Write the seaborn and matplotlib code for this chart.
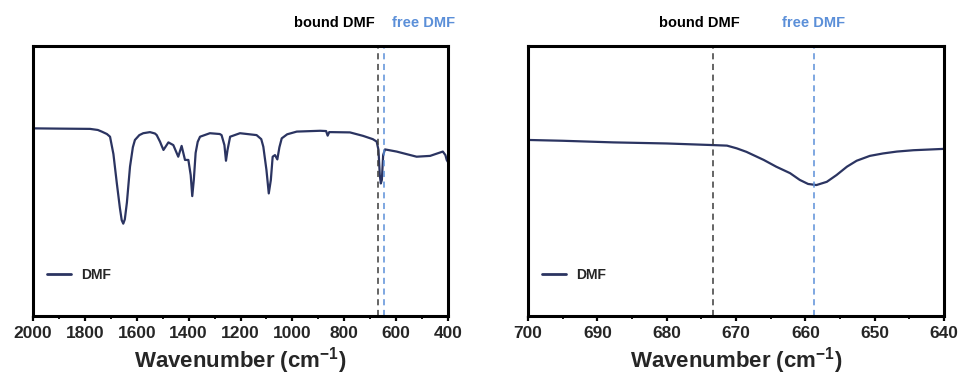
import numpy as np
import pandas as pd
import matplotlib
matplotlib.use("Agg")
import matplotlib.pyplot as plt
import seaborn as sns

# ---- data ----
wn_full = [2000, 1900, 1780, 1750, 1735, 1715, 1703, 1690, 1677, 1665, 1658, 1652,
           1646, 1638, 1626, 1615, 1607, 1590, 1575,
           1549, 1530, 1523, 1510, 1505, 1497, 1478, 1459, 1440, 1427, 1414, 1401,
           1392, 1386, 1380, 1373, 1365, 1356, 1318, 1280, 1273, 1262, 1256, 1250,
           1240, 1202, 1138, 1120, 1112, 1100, 1091, 1083, 1076, 1067, 1058, 1050,
           1041, 1020, 983, 893, 870, 864, 858, 848, 778, 727, 690, 675, 668, 663,
           659, 655, 650, 643, 598, 521, 469, 420, 410, 405, 400]
tr_full = [69.5, 69.4, 69.3, 68.9, 68.3, 67.4, 66.4, 60.0, 49.3, 40.0, 35.5, 34.2,
           35.8, 42.0, 55.3, 62.5, 65.2, 67.0, 67.7,
           68.1, 67.6, 67.0, 64.5, 63.3, 61.5, 64.3, 63.3, 59.0, 63.0, 57.8, 57.8,
           52.2, 44.4, 50.4, 60.4, 64.5, 66.4, 67.7, 67.4, 67.0, 63.3, 57.5, 61.5,
           66.4, 67.7, 67.0, 65.5, 62.7, 54.1, 45.4, 50.4, 59.0, 59.6, 58.0, 62.5,
           65.8, 67.3, 68.3, 68.6, 68.5, 66.8, 68.1, 68.1, 68.0, 66.7, 65.5, 64.6,
           61.5, 52.2, 49.1, 50.4, 59.6, 61.7, 60.9, 59.0, 59.3, 60.9, 59.6, 57.8,
           57.0]

wn_zoom = [700, 695, 687.7, 680, 673.3, 671.3, 669.9, 668.5, 666, 664.2, 662.2,
           660.8, 659.6, 658.4, 656.9, 655.5, 654, 652.6, 650.7, 648.8, 646.8,
           644.4, 640]
tr_zoom = [65.2, 64.9, 64.3, 63.9, 63.3, 63.1, 62.1, 60.8, 57.8, 55.3, 52.9,
           50.4, 48.9, 48.5, 49.7, 52.2, 55.3, 57.5, 59.3, 60.2, 60.9,
           61.4, 61.9]

series_name = "DMF"
marker_labels = ["bound DMF", "free DMF"]
markers_full = [669, 647]      # dashed-line positions as drawn in left panel
markers_zoom = [673.3, 658.8]  # dashed-line positions in right panel

xticks_full = [2000, 1800, 1600, 1400, 1200, 1000, 800, 600, 400]
xticks_zoom = [700, 690, 680, 670, 660, 650, 640]

# ---- style ----
sns.set_theme(style="ticks")
plt.rcParams["font.family"] = ["Liberation Sans", "DejaVu Sans"]
plt.rcParams["mathtext.fontset"] = "custom"
plt.rcParams["mathtext.rm"] = "Liberation Sans"
plt.rcParams["mathtext.bf"] = "Liberation Sans:bold"

line_color = "#2b3461"
marker_colors = ["#3a3a3a", "#5b8fd8"]

fig = plt.figure(figsize=(9.64, 3.76), dpi=100)
ax1 = fig.add_axes([33 / 964, 60 / 376, 415 / 964, 270 / 376])
ax2 = fig.add_axes([528 / 964, 60 / 376, 416 / 964, 270 / 376])

df_full = pd.DataFrame({"wn": wn_full, "T": tr_full, "s": series_name})
df_zoom = pd.DataFrame({"wn": wn_zoom, "T": tr_zoom, "s": series_name})

panels = [
    (ax1, df_full, (2000, 400), xticks_full, 100, markers_full,
     [(334, marker_labels[0]), (424, marker_labels[1])]),
    (ax2, df_zoom, (700, 640), xticks_zoom, 5, markers_zoom,
     [(699, marker_labels[0]), (814, marker_labels[1])]),
]

for ax, df, xl, ticks, minor, mk, texts in panels:
    sns.lineplot(data=df, x="wn", y="T", hue="s", palette=[line_color],
                 linewidth=1.6, ax=ax, sort=False, estimator=None)
    for pos, col in zip(mk, marker_colors):
        ax.axvline(pos, color=col, linewidth=1.1, linestyle=(0, (4, 3)))
    ax.set_xlim(*xl)
    ax.set_ylim(0, 100)
    ax.set_xticks(ticks)
    ax.set_xticklabels([str(t) for t in ticks], fontsize=12.5, fontweight="bold")
    ax.xaxis.set_minor_locator(matplotlib.ticker.MultipleLocator(minor))
    ax.tick_params(axis="x", which="major", direction="out", length=3.5, width=1.6,
                   pad=4, color="black")
    ax.tick_params(axis="x", which="minor", direction="out", length=2, width=1.3,
                   color="black")
    ax.set_yticks([])
    ax.set_ylabel("")
    ax.set_xlabel(r"Wavenumber (cm$^{\mathbf{-1}}$)", fontsize=16, fontweight="bold",
                  labelpad=3)
    for sp in ax.spines.values():
        sp.set_visible(True)
        sp.set_linewidth(2.2)
        sp.set_color("black")
    leg = ax.legend(loc="center left", bbox_to_anchor=(0.034, 0.152), frameon=False,
                    borderpad=0, borderaxespad=0, handlelength=1.7, handletextpad=0.75,
                    prop={"family": "Liberation Sans", "weight": "bold", "size": 10})
    for h in leg.get_lines():
        h.set_linewidth(2)
    for (xp, txt), col in zip(texts, ["black", marker_colors[1]]):
        fig.text(xp / 964, 1 - 23 / 376, txt, ha="center", va="center",
                 fontsize=10.5, fontweight="bold", color=col)

fig.savefig("out.png", dpi=100)
